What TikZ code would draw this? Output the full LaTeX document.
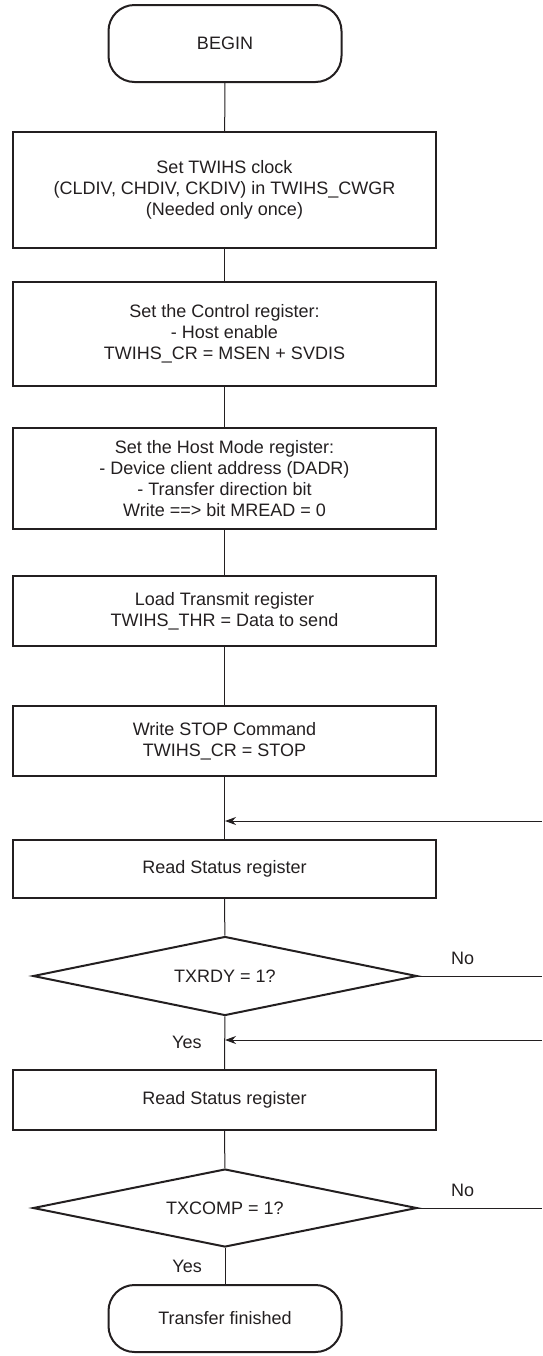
\documentclass[tikz,border=0pt]{standalone}
\usepackage{fontspec}
\setmainfont{Liberation Sans}
\usetikzlibrary{arrows.meta,shapes.geometric}
\definecolor{ink}{RGB}{35,31,32}
\tikzset{
    box/.style={draw=ink, text=ink, line width=1pt, minimum width=211.5pt,
                inner sep=3pt, align=center},
    terminal/.style={box, rounded corners=13pt, minimum width=116.5pt,
                     minimum height=35pt},
    choice/.style={diamond, draw=ink, text=ink, line width=1pt, aspect=4.86,
                   minimum width=192pt, minimum height=39.5pt, inner sep=0pt,
                   align=center},
    link/.style={draw=ink, line width=0.5pt},
    flow/.style={link, -{Stealth[length=5.5pt, width=4pt]}},
    note/.style={text=ink, align=center},
}

\begin{document}
\begin{tikzpicture}[x=0.5pt, y=-0.5pt, font=\fontsize{9}{10.5}\selectfont]
    \path[use as bounding box] (0,0) rectangle (542,1356);

    \node[terminal, minimum height=38.5pt] (begin) at (225,43.5) {BEGIN};
    \node[box, minimum height=58pt] (clock) at (224.5,190)
        {Set TWIHS clock\\(CLDIV, CHDIV, CKDIV) in TWIHS\_CWGR\\(Needed only once)};
    \node[box, minimum height=52pt] (control) at (224.5,334)
        {Set the Control register:\\- Host enable\\TWIHS\_CR = MSEN + SVDIS};
    \node[box, minimum height=50.5pt] (hostmode) at (224.5,478.5)
        {Set the Host Mode register:\\- Device client address (DADR)\\- Transfer direction bit\\Write ==> bit MREAD = 0};
    \node[box, minimum height=35pt] (load) at (224.5,611)
        {Load Transmit register\\TWIHS\_THR = Data to send};
    \node[box, minimum height=35pt] (stop) at (224.5,741)
        {Write STOP Command\\TWIHS\_CR = STOP};
    \node[box, minimum height=29pt] (readone) at (224.5,869) {Read Status register};
    \node[choice] (txrdy) at (225,976) {TXRDY = 1?};
    \node[box, minimum height=30pt] (readtwo) at (224.5,1100) {Read Status register};
    \node[choice, minimum height=39pt] (txcomp) at (225,1208) {TXCOMP = 1?};
    \node[terminal, minimum height=33.5pt] (finished) at (225,1318.5) {Transfer finished};

    \coordinate (loopone) at (542,821);
    \coordinate (mergeone) at (225,821);
    \coordinate (looptwo) at (542,1040);
    \coordinate (mergetwo) at (225,1040);
    \coordinate (noone) at (542,976);
    \coordinate (notwo) at (542,1208);

    \draw[link] (begin) -- (clock);
    \draw[link] (clock) -- (control);
    \draw[link] (control) -- (hostmode);
    \draw[link] (hostmode) -- (load);
    \draw[link] (load) -- (stop);
    \draw[link] (stop) -- (readone);
    \draw[link] (readone) -- (txrdy);
    \draw[link] (txrdy) -- node[note, left=8pt, pos=0.49] {Yes} (readtwo);
    \draw[link] (readtwo) -- (txcomp);
    \draw[link] (txcomp) -- node[note, left=8pt, pos=0.5] {Yes} (finished);

    \draw[link] (txrdy.east) -- node[note, above=2pt, pos=0.36] {No} (noone);
    \draw[link] (txcomp.east) -- node[note, above=2pt, pos=0.36] {No} (notwo);
    \draw[flow] (loopone) -- (mergeone);
    \draw[flow] (looptwo) -- (mergetwo);
\end{tikzpicture}
\end{document}
